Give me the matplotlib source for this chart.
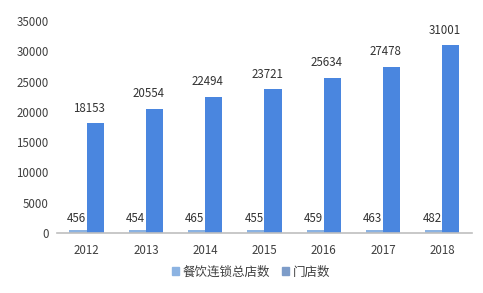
import matplotlib
matplotlib.use("Agg")
import matplotlib.pyplot as plt
import numpy as np

plt.rcParams['font.family'] = ['Noto Sans CJK SC', 'DejaVu Sans']

years = ["2012", "2013", "2014", "2015", "2016", "2017", "2018"]
chain_total = [456, 454, 465, 455, 459, 463, 482]
stores = [18153, 20554, 22494, 23721, 25634, 27478, 31001]
series_names = ["餐饮连锁总店数", "门店数"]

fig = plt.figure(figsize=(4.83, 2.93), dpi=100)
ax = fig.add_axes([0.118, 0.205, 0.859, 0.723])

x = np.arange(len(years))
w = 0.29
b1 = ax.bar(x - w / 2, chain_total, w, color="#8cb3e2", label=series_names[0])
b2 = ax.bar(x + w / 2, stores, w, color="#4a86df", label=series_names[1])

for xi, v in zip(x, chain_total):
    ax.text(xi - w / 2 - 0.03, v + 900, str(v), ha="center", va="bottom", fontsize=8.3, color="#333333")
for xi, v in zip(x, stores):
    ax.text(xi + w / 2 - 0.1, v + 1400, str(v), ha="center", va="bottom", fontsize=8.3, color="#333333")

ax.set_xlim(-0.5, len(years) - 0.5)
ax.set_ylim(0, 35000)
ax.set_yticks(range(0, 35001, 5000))
ax.set_xticks(x)
ax.set_xticklabels(years)
ax.tick_params(axis="both", length=0, labelsize=8.3, colors="#404040")
ax.tick_params(axis="x", pad=8)
ax.tick_params(axis="y", pad=6)
for s in ["top", "right", "left"]:
    ax.spines[s].set_visible(False)
ax.spines["bottom"].set_color("#bfbfbf")
ax.spines["bottom"].set_linewidth(1.2)

handles = [plt.Rectangle((0, 0), 1, 1, color="#8cb3e2"), plt.Rectangle((0, 0), 1, 1, color="#7d9cc9")]
fig.legend(handles, series_names, loc="center", bbox_to_anchor=(0.52, 0.072), ncol=2, frameon=False,
           fontsize=9, handlelength=0.55, handleheight=0.55, handletextpad=0.3, columnspacing=1.0,
           labelcolor="#404040")

fig.savefig("out.png", dpi=100)
